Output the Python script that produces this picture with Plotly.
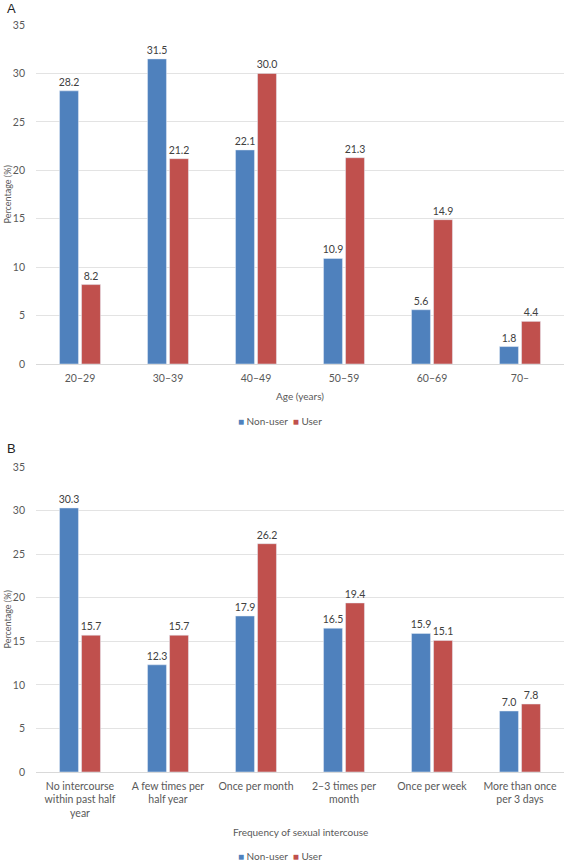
import plotly.graph_objects as go

age_groups = ["20–29", "30–39", "40–49", "50–59", "60–69", "70–"]
age_nonuser = [28.2, 31.5, 22.1, 10.9, 5.6, 1.8]
age_user = [8.2, 21.2, 30.0, 21.3, 14.9, 4.4]

freq_groups = ["No intercourse<br>within past half<br>year", "A few times per<br>half year", "Once per month",
               "2–3 times per<br>month", "Once per week", "More than once<br>per 3 days"]
freq_nonuser = [30.3, 12.3, 17.9, 16.5, 15.9, 7.0]
freq_user = [15.7, 15.7, 26.2, 19.4, 15.1, 7.8]

y_ticks = [0, 5, 10, 15, 20, 25, 30, 35]
series_names = ["Non-user", "User"]

BLUE = "#4F81BD"
RED = "#C0504D"
TXT = "#595959"
FONT = "Lato"
W, H = 566, 862

def px(v):
    return 1 - v / H

fig = go.Figure()

def add_bars(x, nu, us, xa, ya):
    for name, vals, col in [(series_names[0], nu, BLUE), (series_names[1], us, RED)]:
        fig.add_trace(go.Bar(x=x, y=vals, name=name, marker_color=col, xaxis=xa, yaxis=ya,
                             text=[f"{v:.1f}" for v in vals], textposition="outside", cliponaxis=False,
                             constraintext="none",
                             textfont=dict(size=10.5, color="#404040", family=FONT), showlegend=False))

add_bars(age_groups, age_nonuser, age_user, "x", "y")
add_bars(freq_groups, freq_nonuser, freq_user, "x2", "y2")

xdom = [36 / W, 564 / W]
yax = dict(range=[0, 35], tickvals=y_ticks, showgrid=True, gridcolor="#E3E3E3", gridwidth=1,
           zeroline=False, showline=False, ticks="", tickfont=dict(size=10.5, color=TXT, family=FONT),
           ticklabelstandoff=10, fixedrange=True, automargin=False)
xax = dict(showgrid=False, showline=True, linecolor="#D9D9D9", linewidth=1, ticks="outside", ticklen=4,
           tickcolor="rgba(0,0,0,0)", tickfont=dict(size=10.5, color=TXT, family=FONT), tickangle=0,
           automargin=False, fixedrange=True)

fig.update_layout(
    width=W, height=H, margin=dict(l=0, r=0, t=0, b=0, autoexpand=False),
    paper_bgcolor="white", plot_bgcolor="white",
    barmode="group", bargap=0.5, bargroupgap=0.14,
    font=dict(family=FONT, color=TXT),
    xaxis=dict(domain=xdom, anchor="y", **xax),
    yaxis=dict(domain=[px(364), px(25)], anchor="x", **yax),
    xaxis2=dict(domain=xdom, anchor="y2", **xax),
    yaxis2=dict(domain=[px(772), px(467)], anchor="x2", **yax),
    showlegend=False,
)

legend_text = (f"<span style='color:{BLUE}'>■</span> {series_names[0]}  "
               f"<span style='color:{RED}'>■</span> {series_names[1]}")

annos = [
    dict(text="A", x=5 / W, y=px(8), xanchor="left", yanchor="middle", font=dict(size=13, color="#222", family="Liberation Sans")),
    dict(text="B", x=5 / W, y=px(448), xanchor="left", yanchor="middle", font=dict(size=13, color="#222", family="Liberation Sans")),
    dict(text="Percentage (%)", x=7 / W, y=px((25 + 364) / 2), textangle=-90, xanchor="center", yanchor="middle",
         font=dict(size=9, color=TXT, family=FONT)),
    dict(text="Percentage (%)", x=7 / W, y=px((467 + 772) / 2), textangle=-90, xanchor="center", yanchor="middle",
         font=dict(size=9, color=TXT, family=FONT)),
    dict(text="Age (years)", x=300 / W, y=px(396), xanchor="center", yanchor="middle",
         font=dict(size=10, color=TXT, family=FONT)),
    dict(text="Frequency of sexual intercouse", x=300 / W, y=px(832), xanchor="center", yanchor="middle",
         font=dict(size=10, color=TXT, family=FONT)),
    dict(text=legend_text, x=280 / W, y=px(421), xanchor="center", yanchor="middle",
         font=dict(size=10, color=TXT, family=FONT)),
    dict(text=legend_text, x=280 / W, y=px(856), xanchor="center", yanchor="middle",
         font=dict(size=10, color=TXT, family=FONT)),
]
for a in annos:
    a.update(xref="paper", yref="paper", showarrow=False)
fig.update_layout(annotations=annos)

fig.write_html("out.html", config={"displayModeBar": False},
               post_script="document.body.style.margin='0';")
